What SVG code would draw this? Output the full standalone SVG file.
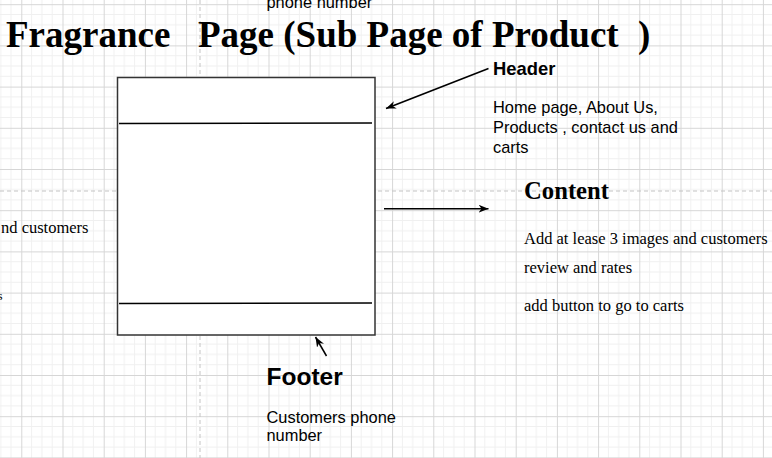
<svg xmlns="http://www.w3.org/2000/svg" width="772" height="458" viewBox="0 0 772 458">
  <defs>
    <pattern id="grid" patternUnits="userSpaceOnUse" x="21.3" y="4.2" width="41.2" height="41.2">
      <path d="M10.3,0 V41.2 M20.6,0 V41.2 M30.9,0 V41.2 M0,10.3 H41.2 M0,20.6 H41.2 M0,30.9 H41.2" stroke="#f0f0f0" stroke-width="1" fill="none"/>
      <path d="M0.5,0 V41.2 M0,0.5 H41.2" stroke="#d6d6d6" stroke-width="1" fill="none"/>
    </pattern>
    <marker id="arrow" viewBox="0 0 10 8" refX="10" refY="4" markerWidth="10" markerHeight="8" markerUnits="userSpaceOnUse" orient="auto">
      <path d="M0,0 L10,4 L0,8 L3,4 Z" fill="#000"/>
    </marker>
  </defs>
  <style>
    .title { font-family: "Liberation Serif", "Times New Roman", serif; font-weight: bold; font-size: 37px; fill: #000; }
    .sans { font-family: "Liberation Sans", Arial, sans-serif; font-size: 16.4px; fill: #000; }
    .sansb { font-family: "Liberation Sans", Arial, sans-serif; font-weight: bold; fill: #000; }
    .serif { font-family: "Liberation Serif", "Times New Roman", serif; font-size: 16.5px; fill: #000; }
    .serifb { font-family: "Liberation Serif", "Times New Roman", serif; font-weight: bold; font-size: 24.7px; fill: #000; }
    .conn { stroke: #000; stroke-width: 1.5; fill: none; marker-end: url(#arrow); }
    .pagebreak { stroke: #c4c4c4; stroke-width: 1; stroke-dasharray: 4 3; fill: none; }
  </style>

  <rect x="0" y="0" width="772" height="458" fill="#ffffff"/>
  <rect x="0" y="0" width="772" height="458" fill="url(#grid)"/>
  <path class="pagebreak" d="M200,0 V458 M0,191 H772"/>

  <g id="title">
    <text class="title" y="47"><tspan x="6">Fragrance</tspan><tspan x="198">Page (Sub Page of Product</tspan><tspan x="638">)</tspan></text>
  </g>

  <g id="top-clipped-text">
    <text class="sans" x="266.5" y="7.5">phone number</text>
  </g>

  <g id="left-clipped-text">
    <text class="serif" x="1" y="233">nd customers</text>
    <text class="serif" x="-2.5" y="300" style="font-size:13px">s</text>
  </g>

  <g id="page-box">
    <rect x="117.5" y="77.5" width="257.5" height="257.5" fill="#ffffff" stroke="#333333" stroke-width="1.5"/>
    <line x1="119" y1="123.5" x2="372" y2="123" stroke="#000" stroke-width="1.3"/>
    <line x1="119" y1="303.5" x2="372" y2="303" stroke="#000" stroke-width="1.3"/>
  </g>

  <g id="connectors">
    <line class="conn" x1="488.5" y1="68.5" x2="386" y2="108.5"/>
    <line class="conn" x1="384" y1="208.7" x2="488.5" y2="208.7"/>
    <line class="conn" x1="326.5" y1="356" x2="315.5" y2="337"/>
  </g>

  <g id="header-note">
    <text class="sansb" x="493" y="75" style="font-size:18.4px">Header</text>
    <text class="sans" x="493" y="112.5">Home page, About Us,</text>
    <text class="sans" x="493" y="133">Products , contact us and</text>
    <text class="sans" x="493" y="153">carts</text>
  </g>

  <g id="content-note">
    <text class="serifb" x="524" y="198.5">Content</text>
    <text class="serif" x="524" y="244">Add at lease 3 images and customers</text>
    <text class="serif" x="524" y="273">review and rates</text>
    <text class="serif" x="524" y="311">add button to go to carts</text>
  </g>

  <g id="footer-note">
    <text class="sansb" x="266.5" y="385" style="font-size:24.5px">Footer</text>
    <text class="sans" x="266.5" y="422.5">Customers phone</text>
    <text class="sans" x="266.5" y="441">number</text>
  </g>
</svg>
